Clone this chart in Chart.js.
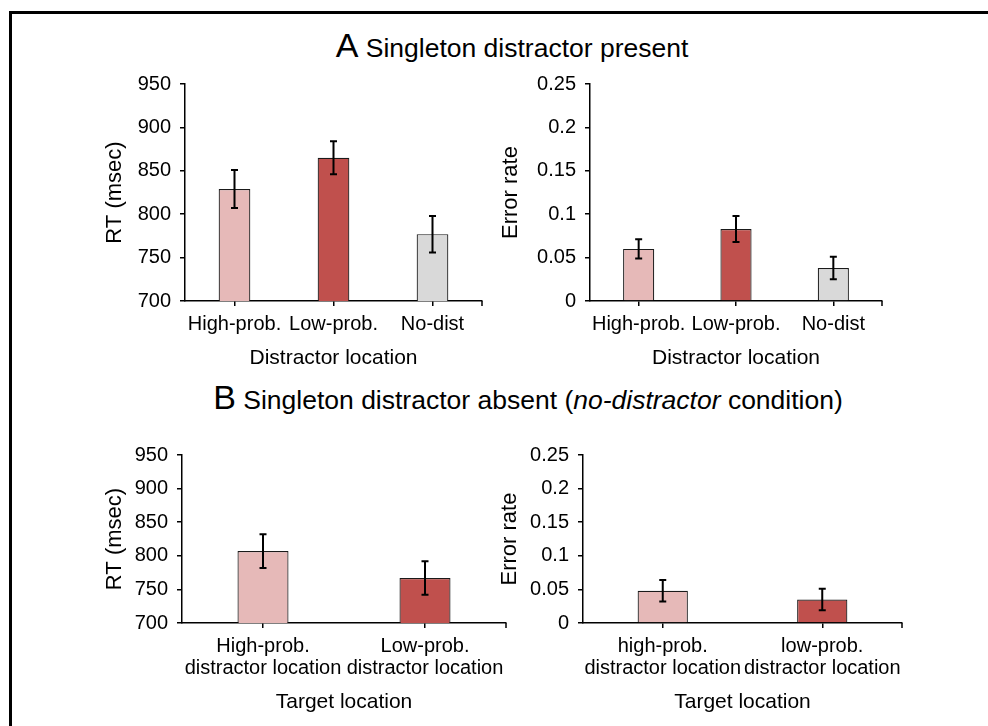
<!DOCTYPE html>
<html>
<head>
<meta charset="utf-8">
<script src="https://cdn.jsdelivr.net/npm/chart.js@4/dist/chart.umd.min.js"></script>
<style>
  html, body { margin: 0; padding: 0; background: #fff; }
  body { width: 988px; height: 726px; position: relative; overflow: hidden;
         font-family: 'Liberation Sans', Arial, sans-serif; color: #000; }
  .frame { position: absolute; left: 9px; top: 11px; width: 1000px; height: 730px;
           border-left: 3px solid #000; border-top: 3px solid #000; }
  .title { position: absolute; white-space: nowrap; font-size: 26.5px; line-height: 34px; }
  .title b { font-weight: normal; font-size: 34px; }
  canvas { position: absolute; }
</style>
</head>
<body>
<div class="frame"></div>
<div class="title" id="titleA" style="left:0;width:1024px;text-align:center;top:28px;"><b>A</b> Singleton distractor present</div>
<div class="title" id="titleB" style="left:0;width:1056px;text-align:center;top:380px;"><b>B</b> Singleton distractor absent (<i>no-distractor</i> condition)</div>

<canvas id="rtPresent" width="399" height="312" style="left:99px;top:63px;"></canvas>
<canvas id="errPresent" width="403" height="312" style="left:495px;top:63px;"></canvas>
<canvas id="rtAbsent" width="423" height="285" style="left:99px;top:434px;"></canvas>
<canvas id="errAbsent" width="424" height="285" style="left:494px;top:434px;"></canvas>

<script>
// A: singleton distractor present
const presentLabels = ['High-prob.', 'Low-prob.', 'No-dist'];
const presentRT = [829, 865, 777];
const presentRTse = [22, 19, 21];
const presentErr = [0.060, 0.083, 0.038];
const presentErrSe = [0.011, 0.015, 0.013];

// B: singleton distractor absent (target location)
const absentLabelsRT = [['High-prob.', 'distractor location'], ['Low-prob.', 'distractor location']];
const absentLabelsErr = [['high-prob.', 'distractor location'], ['low-prob.', 'distractor location']];
const absentRT = [807, 767];
const absentRTse = [25, 25];
const absentErr = [0.048, 0.035];
const absentErrSe = [0.016, 0.016];

const PINK = '#e6b9b8', RED = '#c0504d', GREY = '#d9d9d9';

Chart.defaults.font.family = "'Liberation Sans', Arial, sans-serif";
Chart.defaults.color = '#000';

// error bars + right end tick of the category axis
const errorBars = {
  id: 'errorBars',
  afterDatasetsDraw(chart, args, opts) {
    const { ctx, scales: { y }, chartArea } = chart;
    const meta = chart.getDatasetMeta(0);
    const vals = chart.data.datasets[0].data;
    ctx.save();
    ctx.strokeStyle = '#000';
    ctx.lineWidth = 2;
    meta.data.forEach((bar, i) => {
      const top = y.getPixelForValue(vals[i] + opts.err[i]);
      const bot = y.getPixelForValue(vals[i] - opts.err[i]);
      ctx.beginPath();
      ctx.moveTo(bar.x, top); ctx.lineTo(bar.x, bot);
      ctx.moveTo(bar.x - 3.5, top); ctx.lineTo(bar.x + 3.5, top);
      ctx.moveTo(bar.x - 3.5, bot); ctx.lineTo(bar.x + 3.5, bot);
      ctx.stroke();
    });
    ctx.lineWidth = 1.5;
    ctx.beginPath();
    ctx.moveTo(chartArea.right, chartArea.bottom);
    ctx.lineTo(chartArea.right, chartArea.bottom + 5);
    ctx.stroke();
    ctx.restore();
  }
};

function makeChart(id, labels, values, errs, colors, yOpts) {
  return new Chart(document.getElementById(id), {
    type: 'bar',
    data: {
      labels,
      datasets: [{
        data: values,
        backgroundColor: colors,
        borderColor: '#1a1a1a',
        borderWidth: 1.2,
        barPercentage: yOpts.barPct,
        categoryPercentage: 1,
      }],
    },
    plugins: [errorBars],
    options: {
      responsive: false,
      animation: false,
      layout: { padding: { top: 20, right: 16, bottom: 0, left: 0 } },
      plugins: {
        legend: { display: false },
        tooltip: { enabled: false },
        errorBars: { err: errs },
      },
      scales: {
        x: {
          grid: { offset: false, drawOnChartArea: false, tickLength: 5, color: '#000', lineWidth: 1.5 },
          border: { color: '#000', width: 1.5 },
          ticks: { font: { size: 20, lineHeight: 1.1 }, padding: 7, maxRotation: 0, autoSkip: false },
          title: { display: true, text: yOpts.xTitle, font: { size: 21 }, padding: { top: 4, bottom: 4 } },
          afterFit: s => { s.height = yOpts.xHeight; },
        },
        y: {
          min: yOpts.min, max: yOpts.max,
          grid: { drawOnChartArea: false, tickLength: 5, color: '#000', lineWidth: 1.5 },
          border: { color: '#000', width: 1.5 },
          ticks: { stepSize: yOpts.step, font: { size: 20 }, padding: 9,
                   callback: v => String(+v.toFixed(2)) },
          title: { display: true, text: yOpts.yTitle, font: { size: 22 }, padding: { top: 3, bottom: 4 } },
          afterFit: s => { s.width = yOpts.yWidth; },
        },
      },
    },
  });
}

makeChart('rtPresent', presentLabels, presentRT, presentRTse, [PINK, RED, GREY],
  { min: 700, max: 950, step: 50, yTitle: 'RT (msec)', xTitle: 'Distractor location', yWidth: 86, xHeight: 74, barPct: 0.32 });
makeChart('errPresent', presentLabels, presentErr, presentErrSe, [PINK, RED, GREY],
  { min: 0, max: 0.25, step: 0.05, yTitle: 'Error rate', xTitle: 'Distractor location', yWidth: 95, xHeight: 74, barPct: 0.32 });
makeChart('rtAbsent', absentLabelsRT, absentRT, absentRTse, [PINK, RED],
  { min: 700, max: 950, step: 50, yTitle: 'RT (msec)', xTitle: 'Target location', yWidth: 83, xHeight: 96, barPct: 0.315 });
makeChart('errAbsent', absentLabelsErr, absentErr, absentErrSe, [PINK, RED],
  { min: 0, max: 0.25, step: 0.05, yTitle: 'Error rate', xTitle: 'Target location', yWidth: 89, xHeight: 96, barPct: 0.315 });
</script>
</body>
</html>
